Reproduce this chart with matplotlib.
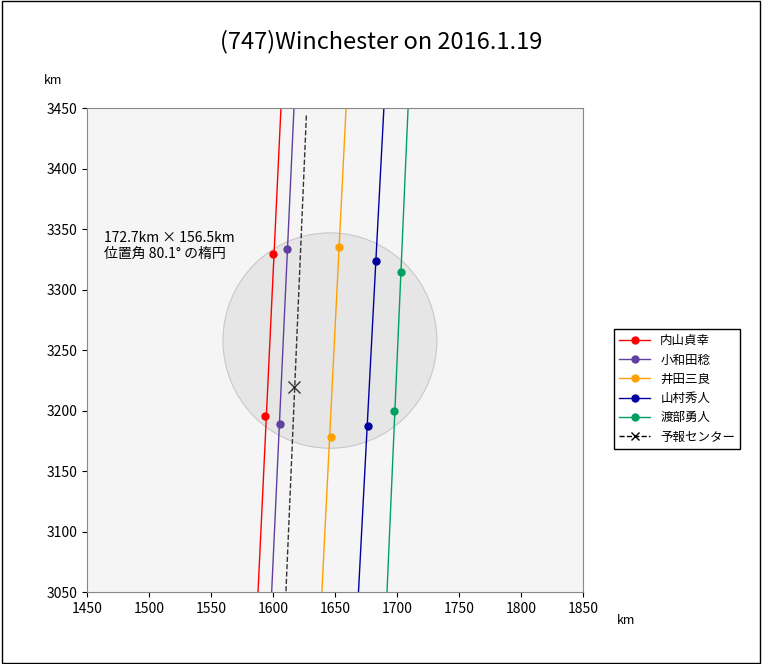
import matplotlib.pyplot as plt
from matplotlib.patches import Ellipse, Rectangle

plt.rcParams['font.family'] = ['Noto Sans CJK JP']

# observer chords: (x at top, x at bottom) and the two timing points
names = ['内山貞幸', '小和田稔', '井田三良', '山村秀人', '渡部勇人']
colors = ['#ff0000', '#6040a0', '#ffa000', '#0000a0', '#00a060']
line_top_x = [1606.5, 1617, 1659, 1689.5, 1709]
line_bot_x = [1588, 1599, 1639.5, 1669, 1692]
pt1_x = [1600, 1611, 1653, 1683, 1703]
pt1_y = [3329.5, 3334, 3335, 3323.5, 3314.5]
pt2_x = [1593.5, 1605.6, 1647, 1677, 1698]
pt2_y = [3196, 3189, 3178, 3187, 3199.5]

pred_x = [1627, 1610.5]
pred_y = [3444, 3050]
center_x, center_y = 1617, 3220

# ellipse as drawn (extent)
ell_x, ell_y = 1646, 3258
ell_w, ell_h = 172.5, 178

fig = plt.figure(figsize=(7.62, 6.64), dpi=100)
fig.patches.append(Rectangle((0.002, 0.002), 0.996, 0.996, transform=fig.transFigure,
                             fill=False, edgecolor='black', linewidth=1))
ax = fig.add_axes([0.114, 0.108, 0.651, 0.729])
ax.set_facecolor('#f5f5f5')

ax.add_patch(Ellipse((ell_x, ell_y), ell_w, ell_h,
                     facecolor='#e6e6e6', edgecolor='#c8c8c8', linewidth=0.8, zorder=1))

for n, c, xt, xb, x1, y1, x2, y2 in zip(names, colors, line_top_x, line_bot_x,
                                        pt1_x, pt1_y, pt2_x, pt2_y):
    ax.plot([xt, xb], [3450, 3050], color=c, linewidth=1, zorder=2)
    ax.plot([x1, x2], [y1, y2], 'o', color=c, markersize=5, zorder=3)
    ax.plot([], [], '-o', color=c, markersize=5, linewidth=1, label=n)

ax.plot(pred_x, pred_y, '--', color='#333333', linewidth=1, zorder=2)
ax.plot(center_x, center_y, 'x', color='#333333', markersize=8, zorder=3)
ax.plot([], [], '--x', color='black', linewidth=1, label='予報センター')

ax.text(1464, 3326, '172.7km × 156.5km\n位置角 80.1° の楕円', fontsize=10, linespacing=1.2)

ax.set_xlim(1450, 1850)
ax.set_ylim(3050, 3450)
ax.set_xticks(range(1450, 1851, 50))
ax.set_yticks(range(3050, 3451, 50))
ax.tick_params(labelsize=10, direction='out')
for s in ax.spines.values():
    s.set_color('#888888')

fig.text(0.057, 0.873, 'km', fontsize=9)
fig.text(0.81, 0.06, 'km', fontsize=9)
fig.suptitle('(747)Winchester on 2016.1.19', y=0.955, fontsize=17)

ax.legend(loc='center left', bbox_to_anchor=(1.05, 0.42), fontsize=9,
          fancybox=False, edgecolor='black', framealpha=1, handlelength=2.5)

fig.savefig('out.png', dpi=100)
